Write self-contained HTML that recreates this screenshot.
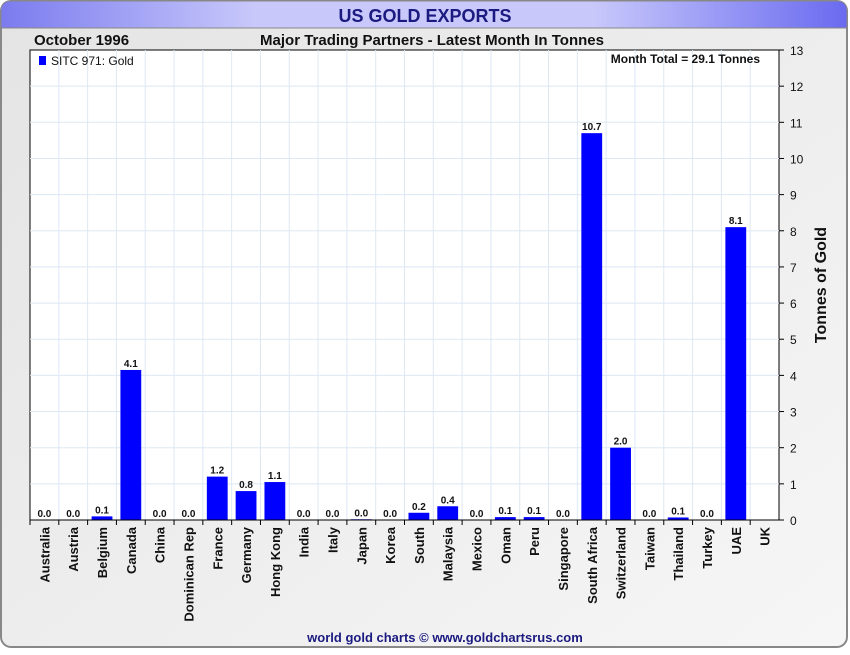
<!DOCTYPE html>
<html><head><meta charset="utf-8"><style>
body{margin:0;width:850px;height:650px;overflow:hidden;background:#fff;font-family:"Liberation Sans",sans-serif}
</style></head><body>
<svg width="850" height="650" xmlns="http://www.w3.org/2000/svg">
<defs>
<linearGradient id="bg" x1="0" y1="0" x2="1" y2="1"><stop offset="0" stop-color="#e4e4e4"/><stop offset="1" stop-color="#f6f6f6"/></linearGradient>
<linearGradient id="hd" x1="0" y1="0" x2="1" y2="0"><stop offset="0" stop-color="#7b7bef"/><stop offset="0.3" stop-color="#c8c8fb"/><stop offset="0.7" stop-color="#c8c8fb"/><stop offset="1" stop-color="#6a6af0"/></linearGradient>
</defs>
<rect x="1" y="1" width="846" height="646" rx="10" fill="url(#bg)" stroke="#888" stroke-width="2"/>
<path d="M1 28 V11 Q1 1 11 1 H837 Q847 1 847 11 V28 Z" fill="url(#hd)" stroke="#888"/>
<text x="425" y="22" text-anchor="middle" font-size="18" font-weight="bold" fill="#1a1a80">US GOLD EXPORTS</text>
<text x="34" y="45" font-size="15" font-weight="bold" fill="#111">October 1996</text>
<text x="432" y="45" text-anchor="middle" font-size="15" font-weight="bold" fill="#111">Major Trading Partners - Latest Month In Tonnes</text>
<rect x="30" y="50" width="749" height="470" fill="#fff" stroke="#000"/>
<g id="grid"></g><g id="bars"></g><g id="axes"></g>
<rect x="39" y="56" width="7" height="9" fill="#0000ff"/>
<text x="51" y="65" font-size="12" fill="#111">SITC 971: Gold</text>
<text x="760" y="63" text-anchor="end" font-size="12" font-weight="bold" fill="#111">Month Total = 29.1 Tonnes</text>
<text transform="translate(826,285) rotate(-90)" text-anchor="middle" font-size="16" font-weight="bold" fill="#111">Tonnes of Gold</text>
<text x="445" y="642" text-anchor="middle" font-size="13" font-weight="bold" fill="#1a1a80">world gold charts © www.goldchartsrus.com</text>
</svg>
<script>
const categories=["Australia","Austria","Belgium","Canada","China","Dominican Rep","France","Germany","Hong Kong","India","Italy","Japan","Korea","South","Malaysia","Mexico","Oman","Peru","Singapore","South Africa","Switzerland","Taiwan","Thailand","Turkey","UAE","UK"];
const values=[0,0,0.1,4.15,0,0,1.2,0.8,1.05,0,0,0.02,0,0.2,0.38,0,0.08,0.08,0,10.7,2.0,0,0.07,0,8.1,null];
const labels=["0.0","0.0","0.1","4.1","0.0","0.0","1.2","0.8","1.1","0.0","0.0","0.0","0.0","0.2","0.4","0.0","0.1","0.1","0.0","10.7","2.0","0.0","0.1","0.0","8.1",""];
const yTicks=[0,1,2,3,4,5,6,7,8,9,10,11,12,13];
const NS="http://www.w3.org/2000/svg";
const L=30,R=779,T=50,B=520,yMax=13;
const step=(R-L)/categories.length;
const x=i=>L+i*step, y=v=>B-(v/yMax)*(B-T);
function mk(t,a,p){const e=document.createElementNS(NS,t);for(const k in a)e.setAttribute(k,a[k]);p.appendChild(e);return e;}
const g=document.getElementById('grid'),bg=document.getElementById('bars'),ax=document.getElementById('axes');
yTicks.forEach(v=>{
 if(v>0&&v<13){const l=mk('line',{x1:L,x2:R,y1:y(v),y2:y(v),stroke:'#dde8f4'},g);
 
 }
 const tk=mk('line',{x1:R,x2:R+5,y1:y(v),y2:y(v),stroke:'#000'},ax);
 
 
 const t=mk('text',{x:R+11,y:y(v)+5,'font-size':12,fill:'#111'},ax);t.textContent=v;
 
 
});
categories.forEach((c,i)=>{
 if(i>0){const l=mk('line',{x1:x(i),x2:x(i),y1:T,y2:B,stroke:'#dde8f4'},g);
 
 }
 const tk=mk('line',{x1:x(i),x2:x(i),y1:B,y2:B+5,stroke:'#000'},ax);
 
 
 const cx=x(i)+step/2;
 const t=mk('text',{transform:`translate(${cx+5},${B+7}) rotate(-90)`,'text-anchor':'end','font-size':13,'font-weight':'bold',fill:'#111'},ax);t.textContent=c;
 
 
 const v=values[i];
 if(v!==null){
  const r=mk('rect',{x:x(i)+4,width:step-8,y:y(v),height:B-y(v),fill:'#0000ff'},bg);
  
  
  const vt=mk('text',{x:cx,y:y(v)-3,'text-anchor':'middle','font-size':10,'font-weight':'bold',fill:'#111'},bg);vt.textContent=labels[i];
  
  
 }
});
const bl=mk('line',{x1:L,x2:R,y1:B,y2:B,stroke:'#000'},ax);


</script>
</body></html>
